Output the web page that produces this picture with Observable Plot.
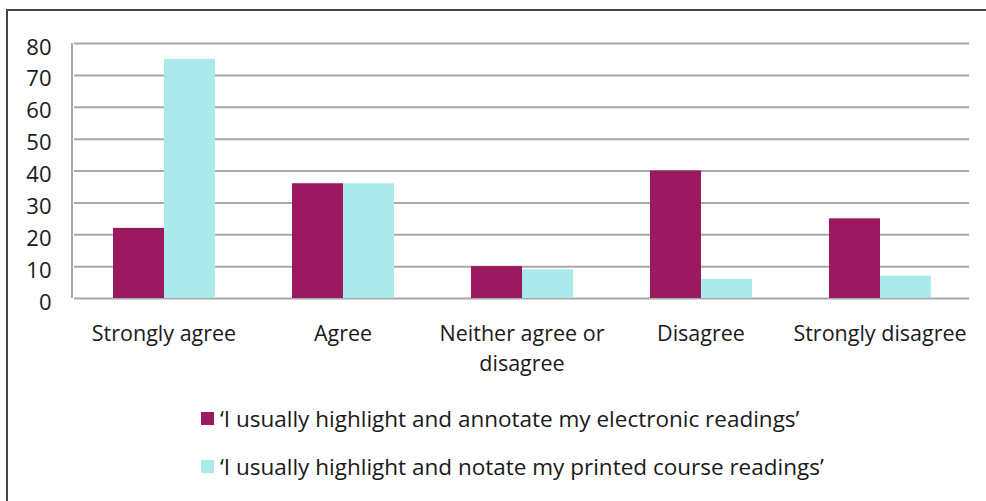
<!DOCTYPE html>
<html>
<head>
<meta charset="utf-8">
<script src="https://cdn.jsdelivr.net/npm/d3@7"></script>
<script src="https://cdn.jsdelivr.net/npm/@observablehq/plot@0.6"></script>
<style>
  html, body { margin: 0; padding: 0; background: #fff; }
  #wrap { position: relative; width: 986px; height: 501px; overflow: hidden; font-family: "Open Sans", Lato, sans-serif; }
  #frame { position: absolute; left: 6px; top: 9px; width: 990px; height: 510px; border-top: 2px solid #454545; border-left: 2px solid #454545; box-sizing: border-box; pointer-events: none; }
  #legend { position: absolute; left: 201px; top: 404px; font-size: 22.5px; color: #1a1a1a; }
  .item { display: flex; align-items: center; height: 28px; margin-bottom: 20px; white-space: nowrap; }
  .sw { width: 13px; height: 13px; margin-right: 6px; }
</style>
</head>
<body>
<div id="wrap">
  <div id="chart"></div>
  <div id="legend"></div>
  <div id="frame"></div>
</div>
<script>
const categories = ["Strongly agree", "Agree", "Neither agree or disagree", "Disagree", "Strongly disagree"];
const tickLabels = ["Strongly agree", "Agree", "Neither agree or\ndisagree", "Disagree", "Strongly disagree"];
const seriesNames = ["\u2018I usually highlight and annotate my electronic readings\u2019", "\u2018I usually highlight and notate my printed course readings\u2019"];
const electronic = [22, 36, 10, 40, 25];
const printed = [75, 36, 9, 6, 7];
const yTicks = [0, 10, 20, 30, 40, 50, 60, 70, 80];
const colors = ["#9b1a5f", "#aaeaea"];

const data = [];
categories.forEach((c, i) => {
  data.push({category: c, series: seriesNames[0], value: electronic[i]});
  data.push({category: c, series: seriesNames[1], value: printed[i]});
});

const plot = Plot.plot({
  width: 986,
  height: 501,
  marginTop: 43,
  marginBottom: 203,
  marginLeft: 72,
  marginRight: 15,
  style: {fontFamily: "'Open Sans', Lato, sans-serif", fontSize: "21.5px", color: "#1a1a1a", background: "transparent"},
  fx: {domain: categories, padding: 0, label: null},
  x: {domain: seriesNames, paddingInner: 0, paddingOuter: 0.74, axis: null},
  y: {domain: [0, 80], label: null},
  color: {domain: seriesNames, range: colors},
  marks: [
    Plot.ruleY(yTicks, {stroke: "#a8a8a8", strokeWidth: 2, strokeOpacity: 1}),
    Plot.barY(data, {fx: "category", x: "series", y: "value", fill: "series", inset: 0}),
    Plot.axisY({ticks: yTicks, tickSize: 0, tickPadding: 23, dy: 4, fontSize: 22, label: null}),
    Plot.axisFx({anchor: "bottom", tickSize: 0, tickPadding: 21, fontSize: 21.5, lineHeight: 1.4, label: null,
      tickFormat: (d) => tickLabels[categories.indexOf(d)]})
  ]
});
document.getElementById("chart").appendChild(plot);

// vertical axis line drawn via scale
const svg = d3.select(plot);
const yScale = plot.scale("y");
svg.append("line")
  .attr("x1", 72).attr("x2", 72)
  .attr("y1", yScale.apply(80)).attr("y2", yScale.apply(0))
  .attr("stroke", "#a8a8a8").attr("stroke-width", 2);

const legend = document.getElementById("legend");
seriesNames.forEach((s, i) => {
  const item = document.createElement("div");
  item.className = "item";
  const sw = document.createElement("span");
  sw.className = "sw";
  sw.style.background = colors[i];
  const t = document.createElement("span");
  t.textContent = s;
  item.appendChild(sw);
  item.appendChild(t);
  legend.appendChild(item);
});
</script>
</body>
</html>
